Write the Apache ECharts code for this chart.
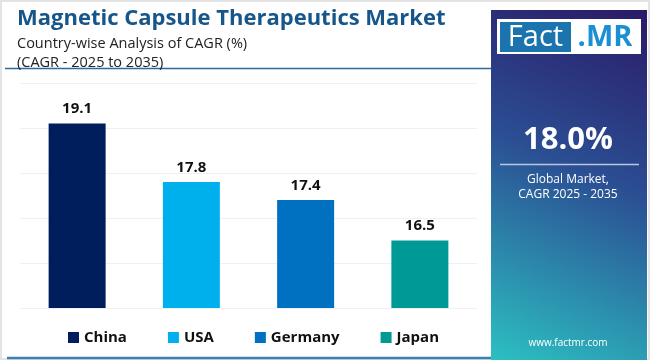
<!DOCTYPE html>
<html>
<head>
<meta charset="utf-8">
<script src="https://cdn.jsdelivr.net/npm/echarts@6/dist/echarts.min.js"></script>
<style>
html,body{margin:0;padding:0;background:#fff;}
#chart{width:650px;height:360px;}
</style>
</head>
<body>
<div id="chart"></div>
<script>
const categories = ['China', 'USA', 'Germany', 'Japan'];
const cagrValues = [19.1, 17.8, 17.4, 16.5];
const globalCagr = '18.0%';
const palette = ['#001d5c', '#00b0ec', '#0070c0', '#009a96'];
const FONT = "'Open Sans', 'DejaVu Sans', sans-serif";

const chart = echarts.init(document.getElementById('chart'), null, {renderer: 'canvas'});

const series = categories.map((name, i) => ({
  name: name,
  type: 'bar',
  stack: 'all',
  barWidth: 57,
  itemStyle: {color: palette[i]},
  label: {
    show: true, position: 'top', distance: 7,
    color: '#111', fontSize: 15, fontWeight: 'bold', fontFamily: FONT,
    formatter: p => p.value.toFixed(1)
  },
  data: cagrValues.map((v, j) => j === i ? v : '-')
}));

chart.setOption({
  animation: false,
  backgroundColor: '#fff',
  title: [{
    text: 'Magnetic Capsule Therapeutics Market',
    left: 12, top: 3,
    textStyle: {color: '#17568a', fontSize: 22, fontWeight: 'bold', fontFamily: FONT}
  }, {
    text: 'Country-wise Analysis of CAGR (%)\n(CAGR - 2025 to 2035)',
    left: 12, top: 29,
    textStyle: {color: '#222', fontSize: 14.5, fontWeight: 'normal', fontFamily: FONT, lineHeight: 19}
  }],
  legend: {
    data: categories,
    left: 63, top: 325,
    icon: 'rect', itemWidth: 11, itemHeight: 11, itemGap: 41,
    textStyle: {color: '#111', fontSize: 15, fontWeight: 'bold', fontFamily: FONT}
  },
  grid: {left: 20, right: 173, top: 83, bottom: 52},
  xAxis: {
    type: 'category', data: categories,
    axisLine: {show: false}, axisTick: {show: false}, axisLabel: {show: false}
  },
  yAxis: {
    type: 'value', min: 15, max: 20, interval: 1,
    axisLabel: {show: false}, axisLine: {show: false}, axisTick: {show: false},
    splitLine: {lineStyle: {color: '#eef0f3', width: 1}}
  },
  series: series,
  graphic: [
    {type: 'rect', shape: {x: 0.5, y: 0.5, width: 649, height: 359}, style: {fill: 'none', stroke: '#e3e3e3', lineWidth: 3}, z: -1},
    {type: 'line', shape: {x1: 5, y1: 68.5, x2: 491, y2: 68.5}, style: {stroke: '#2a6a9e', lineWidth: 1.5}},
    {type: 'line', shape: {x1: 7, y1: 358, x2: 491, y2: 358}, style: {stroke: '#3c7fb5', lineWidth: 2.5}},
    {type: 'rect', shape: {x: 491, y: 10, width: 156, height: 350},
      style: {fill: new echarts.graphic.LinearGradient(1, 0, 0, 1, [
        {offset: 0, color: '#2b1a67'},
        {offset: 0.45, color: '#2b4e93'},
        {offset: 1, color: '#2cc0c2'}
      ])}},
    {type: 'rect', shape: {x: 497, y: 19, width: 144, height: 35}, style: {fill: '#ffffff'}},
    {type: 'rect', shape: {x: 500, y: 22, width: 71, height: 30}, style: {fill: '#1b74ad'}},
    {type: 'text', style: {text: 'Fact', x: 535.5, y: 37.5, align: 'center', verticalAlign: 'middle',
      fill: '#fff', fontSize: 29, fontFamily: FONT, fontWeight: 'normal'}},
    {type: 'text', style: {text: '.MR', x: 605, y: 37.5, align: 'center', verticalAlign: 'middle',
      fill: '#1b8fd3', fontSize: 29, fontFamily: FONT, fontWeight: 'bold'}},
    {type: 'text', style: {text: globalCagr, x: 568, y: 140, align: 'center', verticalAlign: 'middle',
      fill: '#fff', fontSize: 31, fontFamily: FONT, fontWeight: 'bold'}},
    {type: 'line', shape: {x1: 500, y1: 164.5, x2: 639, y2: 164.5}, style: {stroke: '#b8c6e0', lineWidth: 1.5}},
    {type: 'text', style: {text: 'Global Market,\nCAGR 2025 - 2035', x: 568, y: 187, align: 'center', verticalAlign: 'middle',
      fill: '#fff', fontSize: 12, lineHeight: 15, fontFamily: FONT}},
    {type: 'text', style: {text: 'www.factmr.com', x: 568, y: 343, align: 'center', verticalAlign: 'middle',
      fill: '#fff', fontSize: 10, fontFamily: FONT}}
  ]
});
</script>
</body>
</html>
